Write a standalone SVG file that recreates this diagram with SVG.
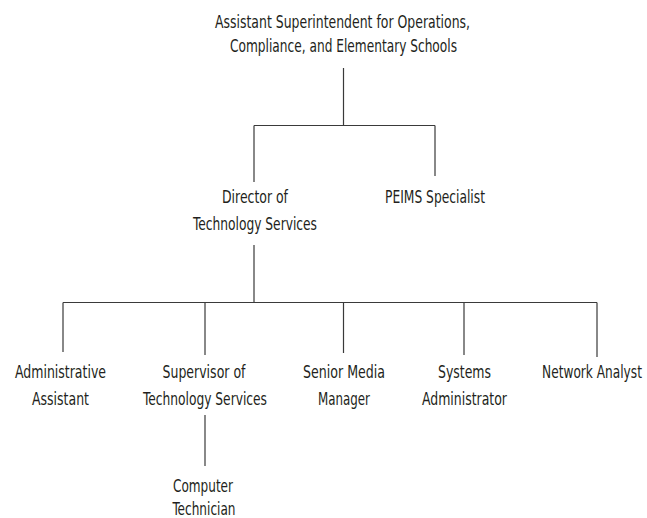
<svg xmlns="http://www.w3.org/2000/svg" width="647" height="518" viewBox="0 0 647 518">
  <style>
    .lbl { font-family: "Liberation Sans Narrow", "DejaVu Sans Condensed", "DejaVu Sans", sans-serif; font-stretch: condensed; font-size: 18px; fill: #231f20; text-anchor: middle; }
    .ln { stroke: #3a3a3a; stroke-width: 1.2; fill: none; }
  </style>
  <rect width="647" height="518" fill="#ffffff"/>

  <!-- reporting lines -->
  <g id="connectors">
    <path class="ln" d="M343.5 68 V125.5 M254 125.5 H435 M254 125.5 V182 M435 125.5 V176"/>
    <path class="ln" d="M254 245 V302.5 M63 302.5 H597 M63 302.5 V352 M205 302.5 V355 M343.5 302.5 V353 M464 302.5 V355 M597 302.5 V357"/>
    <path class="ln" d="M205 415 V466"/>
  </g>

  <g id="asst-superintendent">
    <text class="lbl" x="342.5" y="28" textLength="255" lengthAdjust="spacingAndGlyphs">Assistant Superintendent for Operations,</text>
    <text class="lbl" x="343.5" y="52" textLength="227" lengthAdjust="spacingAndGlyphs">Compliance, and Elementary Schools</text>
  </g>

  <g id="director-tech">
    <text class="lbl" x="255" y="203" textLength="66" lengthAdjust="spacingAndGlyphs">Director of</text>
    <text class="lbl" x="255" y="230" textLength="124" lengthAdjust="spacingAndGlyphs">Technology Services</text>
  </g>

  <g id="peims-specialist">
    <text class="lbl" x="435" y="203" textLength="100" lengthAdjust="spacingAndGlyphs">PEIMS Specialist</text>
  </g>

  <g id="admin-assistant">
    <text class="lbl" x="60.5" y="378" textLength="91" lengthAdjust="spacingAndGlyphs">Administrative</text>
    <text class="lbl" x="60.5" y="405" textLength="57" lengthAdjust="spacingAndGlyphs">Assistant</text>
  </g>

  <g id="supervisor-tech">
    <text class="lbl" x="204" y="378" textLength="83" lengthAdjust="spacingAndGlyphs">Supervisor of</text>
    <text class="lbl" x="205" y="405" textLength="124" lengthAdjust="spacingAndGlyphs">Technology Services</text>
  </g>

  <g id="senior-media-manager">
    <text class="lbl" x="344" y="378" textLength="82" lengthAdjust="spacingAndGlyphs">Senior Media</text>
    <text class="lbl" x="344" y="405" textLength="52" lengthAdjust="spacingAndGlyphs">Manager</text>
  </g>

  <g id="systems-admin">
    <text class="lbl" x="464.5" y="378" textLength="53" lengthAdjust="spacingAndGlyphs">Systems</text>
    <text class="lbl" x="464.5" y="405" textLength="85" lengthAdjust="spacingAndGlyphs">Administrator</text>
  </g>

  <!-- narrowed with a horizontal scale so it stays inside the right edge -->
  <g id="network-analyst" transform="translate(592,378) scale(0.78,1)">
    <text class="lbl" x="0" y="0" textLength="128" lengthAdjust="spacingAndGlyphs">Network Analyst</text>
  </g>

  <g id="computer-technician">
    <text class="lbl" x="203" y="492" textLength="60" lengthAdjust="spacingAndGlyphs">Computer</text>
    <text class="lbl" x="204" y="515" textLength="63" lengthAdjust="spacingAndGlyphs">Technician</text>
  </g>
</svg>
